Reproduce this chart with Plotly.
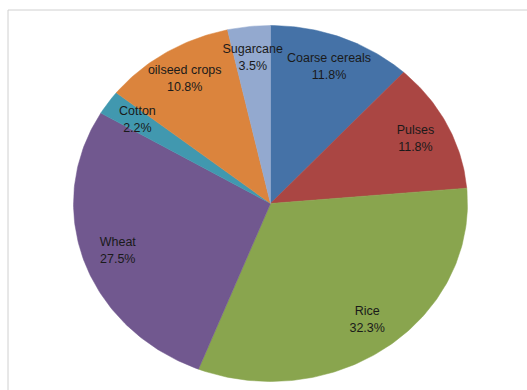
import numpy as np
import plotly.graph_objects as go

# Share of area under major crops (%), clockwise from 12 o'clock
crops = ["Coarse cereals", "Pulses", "Rice", "Wheat", "Cotton", "oilseed crops", "Sugarcane"]
shares = [11.8, 11.8, 32.3, 27.5, 2.2, 10.8, 3.5]
colors = ["#4572A7", "#AA4643", "#89A54E", "#71588F", "#4198AF", "#DB843D", "#93A9CF"]

W, H = 527, 390
cx, cy = 270.5, 203.5      # pie centre (axis units = pixels)
rx, ry = 197, 178          # elliptical radii
label_r = 0.82             # label distance as fraction of radius
line_gap = 8.5             # half the spacing between the two label lines

total = sum(shares)
fig = go.Figure()

start = 0.0
lx, ly, names, pcts = [], [], [], []
for name, v, col in zip(crops, shares, colors):
    frac = v / total
    a0, a1 = start * 2 * np.pi, (start + frac) * 2 * np.pi
    t = np.linspace(a0, a1, max(8, int(frac * 400)))
    xs = np.concatenate([[cx], cx + rx * np.sin(t), [cx]])
    ys = np.concatenate([[cy], cy - ry * np.cos(t), [cy]])
    fig.add_trace(go.Scatter(
        x=xs, y=ys, mode="lines", fill="toself", fillcolor=col,
        line=dict(color=col, width=0.5), name=name,
        hoverinfo="text", text=f"{name}: {v:.1f}%", showlegend=False,
    ))
    am = (a0 + a1) / 2
    lx.append(cx + label_r * rx * np.sin(am))
    ly.append(cy - label_r * ry * np.cos(am))
    names.append(name)
    pcts.append(f"{v:.1f}%")
    start += frac

font = dict(family="Liberation Sans", size=12.5, color="#1a1a1a")
fig.add_trace(go.Scatter(
    x=lx, y=[y - line_gap for y in ly], mode="text", text=names,
    textfont=font, hoverinfo="skip", showlegend=False,
))
fig.add_trace(go.Scatter(
    x=lx, y=[y + line_gap for y in ly], mode="text", text=pcts,
    textfont=font, hoverinfo="skip", showlegend=False,
))

# chart-area frame
fig.add_shape(type="rect", x0=8, y0=10, x1=W + 5, y1=H + 5,
              line=dict(color="#d0d0d0", width=1), fillcolor="rgba(0,0,0,0)",
              layer="below")

fig.update_layout(
    width=W, height=H,
    margin=dict(l=0, r=0, t=0, b=0),
    paper_bgcolor="white", plot_bgcolor="white",
    xaxis=dict(range=[0, W], visible=False, fixedrange=True),
    yaxis=dict(range=[H, 0], visible=False, fixedrange=True),
    showlegend=False,
)

fig.write_html("out.html")
